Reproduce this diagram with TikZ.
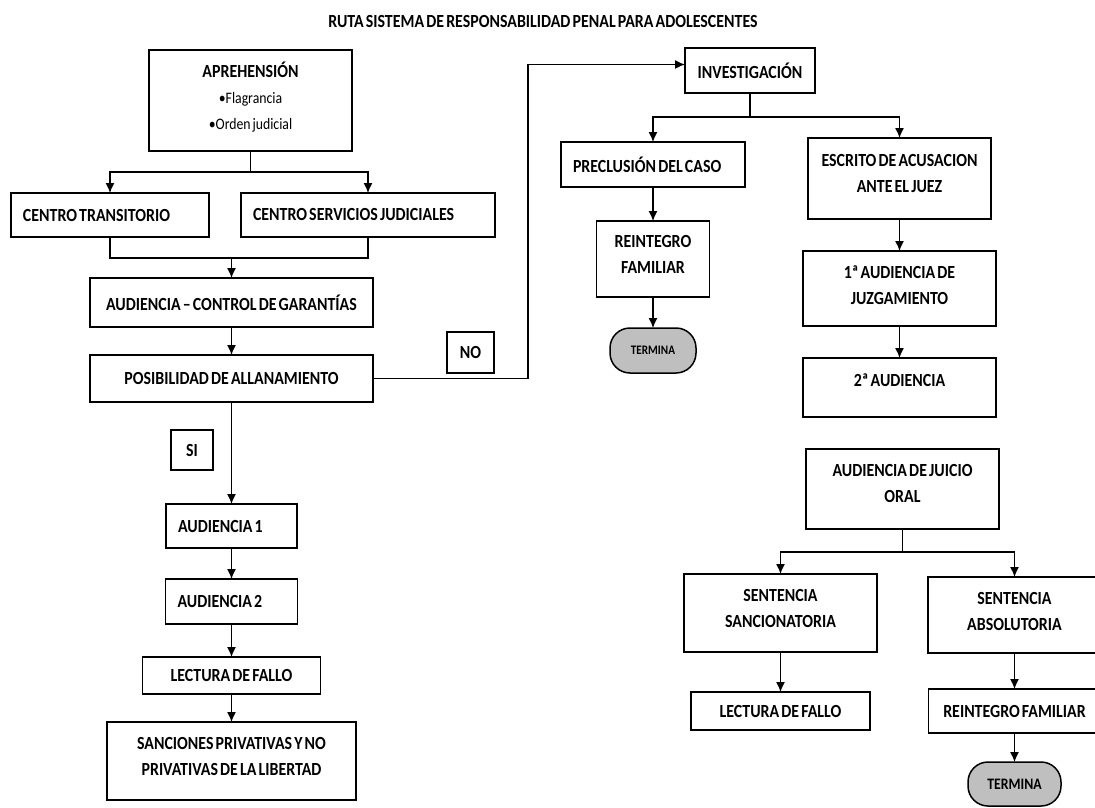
\documentclass[tikz,border=0pt]{standalone}
\usepackage{fontspec}
\setmainfont{Carlito}[FakeStretch=0.86, WordSpace=0.6]
\usepackage{tikz}
\usetikzlibrary{shapes,arrows,positioning,arrows.meta}

\begin{document}
\begin{tikzpicture}[x=1pt, y=1pt, node distance=40pt]
    \tikzstyle{block} = [rectangle, draw, line width=1.5pt, outer sep=0pt, align=center, inner sep=4pt, font=\fontsize{18.5}{26}\selectfont\bfseries]
    \tikzstyle{leftblock} = [block, align=flush left, inner xsep=12pt]
    \tikzstyle{topblock} = [block, text depth=10pt]
    \tikzstyle{ending} = [rectangle, draw, line width=1.5pt, outer sep=0pt, fill=black!25, rounded corners=20pt]
    \tikzstyle{line} = [draw, line width=1.3pt, -{Latex[length=10pt, width=9pt]}]
    \useasboundingbox (0,0) rectangle (1095,-808);

    % Title
    \node [font=\fontsize{18.5}{20}\selectfont\bfseries] (title) at (543,-22) {RUTA SISTEMA DE RESPONSABILIDAD PENAL PARA ADOLESCENTES};

    % Aprehension
    \node [block, text depth=10pt, minimum width=203pt, minimum height=101pt] (aprehension) at (250.5,-100.5) {APREHENSIÓN\\{\fontsize{16}{25}\selectfont\mdseries •Flagrancia}\\{\fontsize{16}{25}\selectfont\mdseries •Orden judicial}};

    % Centro Transitorio
    \node [leftblock, text width=174pt, minimum height=44pt, below=42pt of aprehension, xshift=-140.5pt] (transitorio) {CENTRO TRANSITORIO};

    % Centro Servicios Judiciales
    \node [leftblock, text width=230pt, minimum height=44pt, below=42pt of aprehension, xshift=117.5pt] (servicios) {CENTRO SERVICIOS JUDICIALES};

    % Control de Garantias
    \node [block, minimum width=283pt, minimum height=49pt, below=41pt of transitorio, xshift=121.5pt] (garantias) {AUDIENCIA – CONTROL DE GARANTÍAS};

    % Allanamiento
    \node [block, minimum width=283pt, minimum height=47pt, below=28pt of garantias] (allanamiento) {POSIBILIDAD DE ALLANAMIENTO};

    % NO / SI
    \node [block, minimum width=47pt, minimum height=41pt, right=74pt of allanamiento, yshift=26pt] (noanswer) {NO};
    \node [block, minimum width=42pt, minimum height=40pt, below=28pt of allanamiento, xshift=-39.5pt] (sianswer) {SI};

    % Audiencias
    \node [leftblock, text width=107pt, minimum height=44pt, below=102pt of allanamiento] (audiencia1) {AUDIENCIA 1};
    \node [leftblock, text width=108pt, minimum height=45pt, below=31pt of audiencia1] (audiencia2) {AUDIENCIA 2};

    % Lectura de fallo
    \node [block, minimum width=178pt, minimum height=37pt, below=33pt of audiencia2] (lectura1) {LECTURA DE FALLO};

    % Sanciones
    \node [topblock, minimum width=249pt, minimum height=78pt, below=28pt of lectura1] (sanciones) {SANCIONES PRIVATIVAS Y NO\\PRIVATIVAS DE LA LIBERTAD};

    % Investigacion
    \node [block, minimum width=130pt, minimum height=45pt] (investigacion) at (750,-70.5) {INVESTIGACIÓN};

    % Preclusion
    \node [leftblock, text width=160pt, minimum height=45pt, below=49pt of investigacion, xshift=-97pt] (preclusion) {PRECLUSIÓN DEL CASO};
    \node [topblock, minimum width=113pt, minimum height=76pt, below=34pt of preclusion] (reintegro1) {REINTEGRO\\FAMILIAR};
    \node [ending, minimum width=86pt, minimum height=45pt, font=\fontsize{13}{15}\selectfont\bfseries, below=31pt of reintegro1] (termina1) {TERMINA};

    % Escrito de acusacion
    \node [topblock, minimum width=183pt, minimum height=81pt, below=45pt of investigacion, xshift=149.5pt] (escrito) {ESCRITO DE ACUSACION\\ANTE EL JUEZ};
    \node [topblock, text depth=7pt, minimum width=193pt, minimum height=75pt, below=32pt of escrito] (juzgamiento) {1ª AUDIENCIA DE\\JUZGAMIENTO};
    \node [block, text depth=15pt, minimum width=193pt, minimum height=59pt, below=32pt of juzgamiento] (audiencia2b) {2ª AUDIENCIA};

    % Juicio oral
    \node [topblock, text depth=12pt, minimum width=193pt, minimum height=80pt, below=32pt of audiencia2b, xshift=3pt] (juicio) {AUDIENCIA DE JUICIO\\ORAL};

    % Sentencias
    \node [topblock, minimum width=193pt, minimum height=78pt, below=45pt of juicio, xshift=-122pt] (sancionatoria) {SENTENCIA\\SANCIONATORIA};
    \node [topblock, text depth=8pt, minimum width=173pt, minimum height=76pt, below=48pt of juicio, xshift=112pt] (absolutoria) {SENTENCIA\\ABSOLUTORIA};
    \node [block, minimum width=179pt, minimum height=38pt, below=40pt of sancionatoria] (lectura2) {LECTURA DE FALLO};
    \node [block, minimum width=172pt, minimum height=44pt, below=36pt of absolutoria] (reintegro2) {REINTEGRO FAMILIAR};
    \node [ending, minimum width=93pt, minimum height=44pt, font=\fontsize{16}{18}\selectfont\bfseries, below=29pt of reintegro2] (termina2) {TERMINA};

    % Arrows
    \path [line] (aprehension.south) -- ++(0,-21) -| (transitorio.north);
    \path [line] (aprehension.south) -- ++(0,-21) -| (servicios.north);
    \draw [line width=1.3pt] (transitorio.south) -- ++(0,-21) coordinate (centros) -| (servicios.south);
    \path [line] (centros -| garantias.north) -- (garantias.north);
    \path [line] (garantias) -- (allanamiento);
    \path [line] (allanamiento) -- (audiencia1);
    \path [line] (audiencia1) -- (audiencia2);
    \path [line] (audiencia2) -- (lectura1);
    \path [line] (lectura1) -- (sanciones);
    \path [line] (allanamiento.east) -- ++(155,0) |- ([yshift=6pt]investigacion.west);
    \path [line] (investigacion.south) -- ++(0,-24) -| (preclusion.north);
    \path [line] (investigacion.south) -- ++(0,-24) -| (escrito.north);
    \path [line] (preclusion) -- (reintegro1);
    \path [line] (reintegro1) -- (termina1);
    \path [line] (escrito) -- (juzgamiento);
    \path [line] (juzgamiento) -- (audiencia2b);
    \path [line] (juicio.south) -- ++(0,-23) -| (sancionatoria.north);
    \path [line] (juicio.south) -- ++(0,-23) -| (absolutoria.north);
    \path [line] (sancionatoria) -- (lectura2);
    \path [line] (absolutoria) -- (reintegro2);
    \path [line] (reintegro2) -- (termina2);

\end{tikzpicture}
\end{document}
